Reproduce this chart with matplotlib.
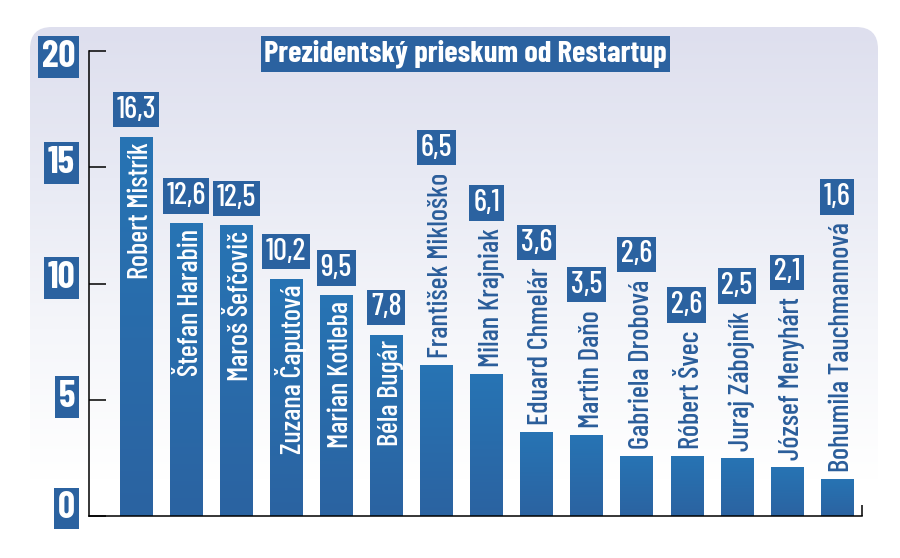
import matplotlib
matplotlib.use("Agg")
import numpy as np
import matplotlib.pyplot as plt
from matplotlib.patches import FancyBboxPatch
from matplotlib.colors import LinearSegmentedColormap

names = ["Robert Mistrík", "Štefan Harabin", "Maroš Šefčovič", "Zuzana Čaputová",
         "Marian Kotleba", "Béla Bugár", "František Mikloško", "Milan Krajniak",
         "Eduard Chmelár", "Martin Daňo", "Gabriela Drobová", "Róbert Švec",
         "Juraj Zábojník", "József Menyhárt", "Bohumila Tauchmannová"]
values = [16.3, 12.6, 12.5, 10.2, 9.5, 7.8, 6.5, 6.1, 3.6, 3.5, 2.6, 2.6, 2.5, 2.1, 1.6]
yticks = [0, 5, 10, 15, 20]
title = "Prezidentský prieskum od Restartup"

FONT = ["Barlow Condensed", "Liberation Sans Narrow", "DejaVu Sans"]
dark = "#2b62a0"
W, H = 900, 558

fig = plt.figure(figsize=(W / 100, H / 100), dpi=100)

# background panel with gradient, in pixel coords
bg = fig.add_axes([0, 0, 1, 1], zorder=-5)
bg.axis("off")
panel = FancyBboxPatch((30, 27), 848, 600, boxstyle="round,pad=0,rounding_size=22",
                       facecolor="none", edgecolor="none")
bg.add_patch(panel)
bg_cmap = LinearSegmentedColormap.from_list("bg", ["#dedfee", "#e8eaf4", "#f5f6fa", "#ffffff"])
g = np.linspace(0, 1, 256).reshape(-1, 1)
im = bg.imshow(g, cmap=bg_cmap, extent=(30, 878, 480, 27), aspect="auto", origin="upper")
im.set_clip_path(panel)
bg.set_xlim(0, W)
bg.set_ylim(H, 0)

# main axes
ax = fig.add_axes([89 / W, (H - 516) / H, (862 - 89) / W, 465 / H])
ax.patch.set_alpha(0)
x = np.arange(len(values))
bars = ax.bar(x, values, width=0.65, color="#2a6aa8", zorder=2)

bar_cmap = LinearSegmentedColormap.from_list("bar", ["#2b63a1", "#2774b4"])
for b in bars:
    x0, y0, w, h = b.get_x(), b.get_y(), b.get_width(), b.get_height()
    gi = ax.imshow(g, cmap=bar_cmap, extent=(x0, x0 + w, y0, y0 + h),
                   aspect="auto", origin="lower", zorder=2.5)
    gi.set_clip_path(b)

ax.set_xlim(-0.94, 14.5)
ax.set_ylim(0, 20)
for s in ["top", "right"]:
    ax.spines[s].set_visible(False)
for s in ["left", "bottom"]:
    ax.spines[s].set_linewidth(1.1)
ax.set_xticks([14.5])
ax.set_xticklabels([""])
ax.tick_params(axis="x", direction="in", length=8, width=1.1)
ax.set_yticks(yticks)
ax.set_yticklabels([])
ax.tick_params(axis="y", direction="in", length=12, width=1.1)

# y labels in boxes (small vertical nudges as in the original)
label_dy = [5.5, 2, 4, 3, -4.5]
for v, dy in zip(yticks, label_dy):
    ax.annotate(str(v), (0, v), xycoords=("axes fraction", "data"),
                xytext=(-10, dy), textcoords="offset points",
                ha="right", va="center", color="white", fontsize=27,
                family=FONT, fontweight="bold", annotation_clip=False,
                bbox=dict(boxstyle="square,pad=0.1", facecolor=dark, edgecolor="none"))

# names
name_texts = []
for xi, v, n in zip(x, values, names):
    if v >= 7:
        t = ax.annotate(n, (xi, v), xytext=(3.5, -4), textcoords="offset points",
                        rotation=90, ha="center", va="top", color="white",
                        fontsize=20.5, family=FONT, fontweight="medium", zorder=4)
    else:
        t = ax.annotate(n, (xi, v), xytext=(3.5, 5), textcoords="offset points",
                        rotation=90, ha="center", va="bottom", color="#2a5d9a",
                        fontsize=20.5, family=FONT, fontweight="medium", zorder=4)
    name_texts.append(t)

fig.canvas.draw()
r = fig.canvas.get_renderer()
inv = ax.transData.inverted()
for xi, v, t in zip(x, values, name_texts):
    if v >= 7:
        top, gap = v, 9.5
    else:
        top, gap = inv.transform(t.get_window_extent(r).p1)[1], 8
    ax.annotate(f"{v:.1f}".replace(".", ","), (xi, top), xytext=(0, gap),
                textcoords="offset points", ha="center", va="bottom", color="white",
                fontsize=22, family=FONT, fontweight="medium", zorder=5,
                bbox=dict(boxstyle="square,pad=0.12", facecolor=dark, edgecolor="none"),
                annotation_clip=False)

fig.text(465.5 / W, 1 - 54 / H, title, ha="center", va="center", color="white",
         fontsize=22, family=FONT, fontweight="bold",
         bbox=dict(boxstyle="square,pad=0.12", facecolor=dark, edgecolor="none"))

fig.savefig("out.png", dpi=100)
